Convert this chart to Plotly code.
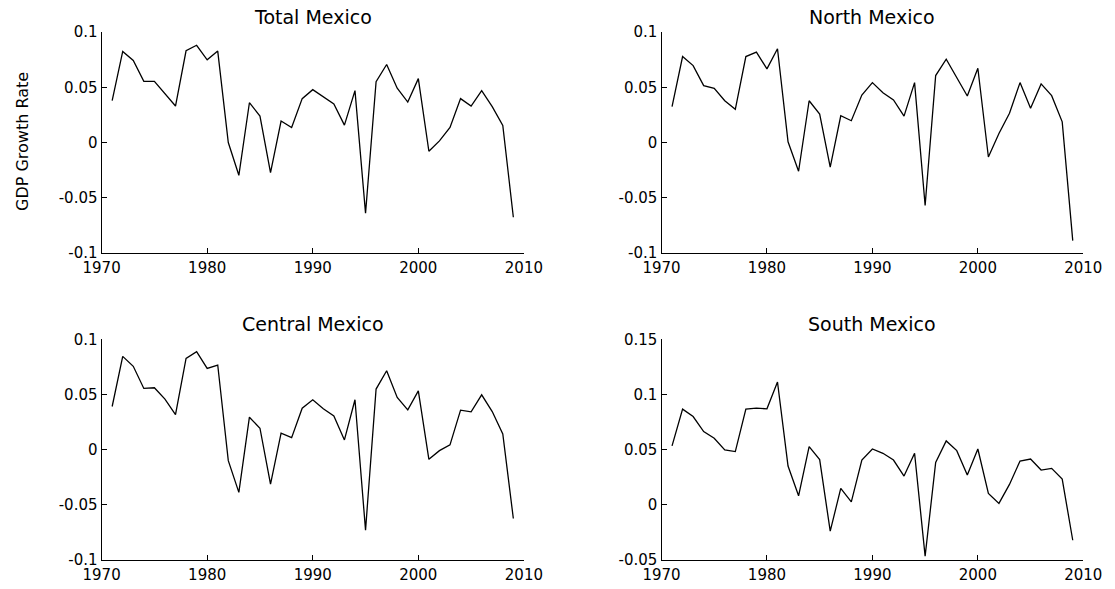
import plotly.graph_objects as go

years = list(range(1971, 2010))

total_mexico = [0.0378, 0.0824, 0.0742, 0.0554, 0.0554, 0.0440, 0.0330, 0.0830, 0.0880, 0.0748,
                0.0827, 0.0000, -0.0297, 0.0360, 0.0239, -0.0273, 0.0194, 0.0136, 0.0397, 0.0478,
                0.0409, 0.0348, 0.0157, 0.0469, -0.0640, 0.0551, 0.0706, 0.0491, 0.0366, 0.0578,
                -0.0079, 0.0015, 0.0136, 0.0397, 0.0330, 0.0469, 0.0324, 0.0155, -0.0676]

north_mexico = [0.0324, 0.0778, 0.0696, 0.0515, 0.0490, 0.0378, 0.0300, 0.0778, 0.0818, 0.0666,
                0.0848, 0.0006, -0.0260, 0.0378, 0.0257, -0.0222, 0.0242, 0.0197, 0.0430, 0.0542,
                0.0451, 0.0385, 0.0239, 0.0542, -0.0570, 0.0606, 0.0754, 0.0590, 0.0421, 0.0672,
                -0.0131, 0.0082, 0.0264, 0.0542, 0.0309, 0.0530, 0.0424, 0.0187, -0.0888]

central_mexico = [0.0391, 0.0845, 0.0755, 0.0555, 0.0561, 0.0458, 0.0318, 0.0827, 0.0888, 0.0736,
                  0.0767, -0.0100, -0.0387, 0.0294, 0.0194, -0.0312, 0.0149, 0.0109, 0.0376, 0.0452,
                  0.0370, 0.0306, 0.0088, 0.0452, -0.0730, 0.0549, 0.0715, 0.0473, 0.0361, 0.0533,
                  -0.0088, -0.0009, 0.0043, 0.0358, 0.0343, 0.0497, 0.0345, 0.0142, -0.0624]

south_mexico = [0.0534, 0.0867, 0.0800, 0.0664, 0.0603, 0.0497, 0.0482, 0.0867, 0.0876, 0.0870,
                0.1113, 0.0352, 0.0082, 0.0527, 0.0410, -0.0239, 0.0149, 0.0027, 0.0406, 0.0506,
                0.0467, 0.0406, 0.0261, 0.0467, -0.0466, 0.0385, 0.0579, 0.0491, 0.0270, 0.0506,
                0.0103, 0.0013, 0.0185, 0.0397, 0.0415, 0.0315, 0.0330, 0.0233, -0.0321]

titles = ["Total Mexico", "North Mexico", "Central Mexico", "South Mexico"]
x_ticks = [1970, 1980, 1990, 2000, 2010]
y_ticks_a = [-0.1, -0.05, 0, 0.05, 0.1]
y_text_a = ["-0.1", "-0.05", "0", "0.05", "0.1"]
y_ticks_b = [-0.05, 0, 0.05, 0.1, 0.15]
y_text_b = ["-0.05", "0", "0.05", "0.1", "0.15"]
y_label = "GDP Growth Rate"

W, H = 1115, 589
FONT = "DejaVu Sans"

series = [total_mexico, north_mexico, central_mexico, south_mexico]
xdom = [[101.6 / W, 523.9 / W], [661.5 / W, 1083.3 / W]]
ydom = [[(H - 253) / H, (H - 32) / H], [(H - 560) / H, (H - 339.3) / H]]

fig = go.Figure()
layout = {}
for i, ys in enumerate(series):
    n = i + 1
    r, c = divmod(i, 2)
    xa = "x" if n == 1 else f"x{n}"
    ya = "y" if n == 1 else f"y{n}"
    fig.add_trace(go.Scatter(x=years, y=ys, mode="lines", xaxis=xa, yaxis=ya,
                             line=dict(color="black", width=1.3), showlegend=False))
    if i == 3:
        yt, ytt, yr = y_ticks_b, y_text_b, [-0.05, 0.15]
    else:
        yt, ytt, yr = y_ticks_a, y_text_a, [-0.1, 0.1]
    layout["xaxis" if n == 1 else f"xaxis{n}"] = dict(
        domain=xdom[c], anchor=ya, range=[1970, 2010], tickvals=x_ticks,
        ticktext=[str(v) for v in x_ticks], ticks="inside", ticklen=5, tickwidth=1,
        tickcolor="black", showline=True, linecolor="black", linewidth=1.2,
        showgrid=False, zeroline=False, automargin=False, ticklabelstandoff=1,
        tickfont=dict(family=FONT, size=15, color="black"))
    layout["yaxis" if n == 1 else f"yaxis{n}"] = dict(
        domain=ydom[r], anchor=xa, range=yr, tickvals=yt, ticktext=ytt,
        ticks="inside", ticklen=5, tickwidth=1, tickcolor="black",
        showline=True, linecolor="black", linewidth=1.2,
        showgrid=False, zeroline=False, automargin=False,
        tickfont=dict(family=FONT, size=15, color="black"))

annotations = []
for i, t in enumerate(titles):
    r, c = divmod(i, 2)
    annotations.append(dict(text=t, xref="paper", yref="paper",
                            x=(xdom[c][0] + xdom[c][1]) / 2, y=ydom[r][1],
                            xanchor="center", yanchor="bottom", yshift=2, showarrow=False,
                            font=dict(family=FONT, size=19, color="black")))
annotations.append(dict(text=y_label, xref="paper", yref="paper", x=22 / W,
                        y=(H - 142) / H, xanchor="center", yanchor="middle",
                        textangle=-90, showarrow=False,
                        font=dict(family=FONT, size=16, color="black")))

fig.update_layout(**layout)
fig.update_layout(width=W, height=H, margin=dict(l=0, r=0, t=0, b=0),
                  paper_bgcolor="white", plot_bgcolor="white",
                  annotations=annotations, showlegend=False)
fig.write_html("out.html", config={"displayModeBar": False},
               post_script="document.body.style.margin='0px';")
